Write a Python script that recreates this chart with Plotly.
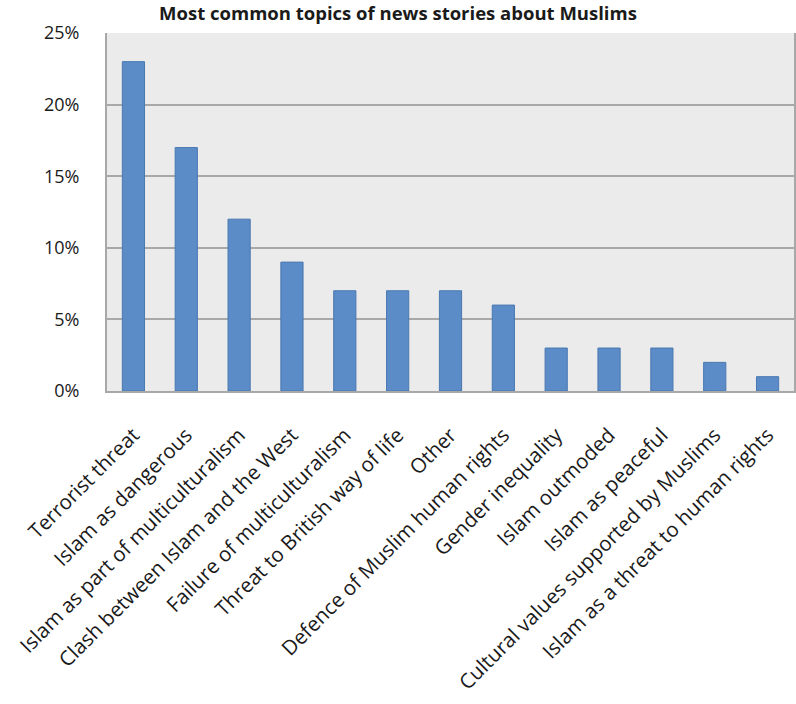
import plotly.graph_objects as go

categories = ["Terrorist threat", "Islam as dangerous", "Islam as part of multiculturalism",
              "Clash between Islam and the West", "Failure of multiculturalism",
              "Threat to British way of life", "Other", "Defence of Muslim human rights",
              "Gender inequality", "Islam outmoded", "Islam as peaceful",
              "Cultural values supported by Muslims", "Islam as a threat to human rights"]
values = [23, 17, 12, 9, 7, 7, 7, 6, 3, 3, 3, 2, 1]
y_ticks = [0, 5, 10, 15, 20, 25]
y_tick_labels = ["0%", "5%", "10%", "15%", "20%", "25%"]

fig = go.Figure(go.Bar(
    x=categories, y=values, width=0.42,
    marker=dict(color="#5b8cc8", line=dict(color="#4a78b0", width=1)),
))
fig.update_layout(
    width=796, height=704,
    margin=dict(l=107, r=0, t=33, b=313),
    paper_bgcolor="white", plot_bgcolor="#ebebeb",
    title=dict(text="<b>Most common topics of news stories about Muslims</b>",
               x=0.5, xanchor="center", y=0.9805, yanchor="middle",
               font=dict(family="Open Sans", size=18.5, color="#1a1a1a")),
    showlegend=False,
    font=dict(family="Open Sans", color="#222"),
)
fig.update_xaxes(tickangle=-45, tickfont=dict(size=20.5, color="#1a1a1a"),
                 showline=True, linecolor="#a8a8a8", linewidth=2, ticks="",
                 ticklabelstandoff=22)
fig.update_yaxes(range=[0, 25], tickvals=y_ticks, ticktext=y_tick_labels,
                 tickfont=dict(size=18, color="#1a1a1a"),
                 showgrid=True, gridcolor="#a8a8a8", gridwidth=2,
                 showline=True, linecolor="#a8a8a8", linewidth=2, mirror=True,
                 zeroline=False, ticks="", ticklabelstandoff=22)
fig.write_html("out.html")
